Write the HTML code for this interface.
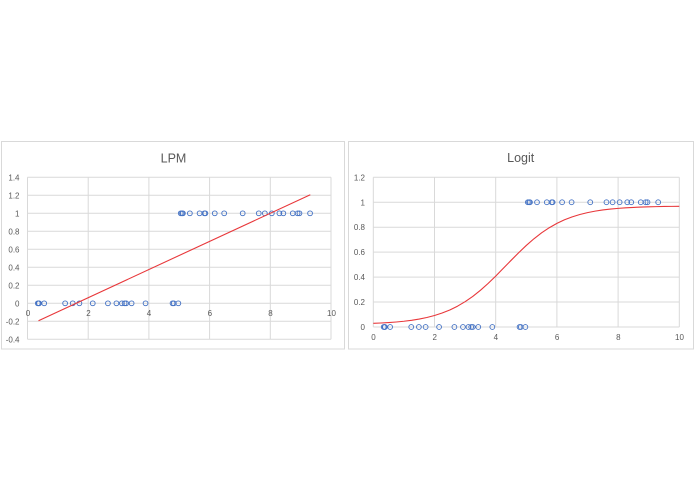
<!DOCTYPE html>
<html>
<head>
<meta charset="utf-8">
<style>
html,body{margin:0;padding:0;background:#fff;}
svg{display:block;}
text{font-family:"Liberation Sans",Arial,sans-serif;fill:#595959;}
</style>
</head>
<body>
<svg width="695" height="494" viewBox="0 0 695 494" xmlns="http://www.w3.org/2000/svg">
<rect x="0" y="0" width="695" height="494" fill="#fff"/>

<!-- ============ LEFT CHART: LPM ============ -->
<rect x="1.5" y="141.5" width="343" height="207.5" fill="#fff" stroke="#d9d9d9" stroke-width="1"/>
<text x="173.5" y="162.5" font-size="12.5" text-anchor="middle">LPM</text>

<g stroke="#d9d9d9" stroke-width="1" fill="none">
  <line x1="27.5" y1="177.3" x2="331" y2="177.3"/>
  <line x1="27.5" y1="195.3" x2="331" y2="195.3"/>
  <line x1="27.5" y1="213.3" x2="331" y2="213.3"/>
  <line x1="27.5" y1="231.3" x2="331" y2="231.3"/>
  <line x1="27.5" y1="249.3" x2="331" y2="249.3"/>
  <line x1="27.5" y1="267.3" x2="331" y2="267.3"/>
  <line x1="27.5" y1="285.3" x2="331" y2="285.3"/>
  <line x1="27.5" y1="303.3" x2="331" y2="303.3"/>
  <line x1="27.5" y1="321.3" x2="331" y2="321.3"/>
  <line x1="27.5" y1="339.3" x2="331" y2="339.3"/>
  <line x1="27.5" y1="177.3" x2="27.5" y2="339.3"/>
  <line x1="88.2" y1="177.3" x2="88.2" y2="339.3"/>
  <line x1="148.9" y1="177.3" x2="148.9" y2="339.3"/>
  <line x1="209.6" y1="177.3" x2="209.6" y2="339.3"/>
  <line x1="270.3" y1="177.3" x2="270.3" y2="339.3"/>
  <line x1="331" y1="177.3" x2="331" y2="339.3"/>
</g>

<g font-size="8" text-anchor="end">
  <text x="19.5" y="180.3">1.4</text>
  <text x="19.5" y="198.3">1.2</text>
  <text x="19.5" y="216.3">1</text>
  <text x="19.5" y="234.3">0.8</text>
  <text x="19.5" y="252.3">0.6</text>
  <text x="19.5" y="270.3">0.4</text>
  <text x="19.5" y="288.3">0.2</text>
  <text x="19.5" y="306.3">0</text>
  <text x="19.5" y="324.3">-0.2</text>
  <text x="19.5" y="342.3">-0.4</text>
</g>
<g font-size="8" text-anchor="middle">
  <text x="28" y="316">0</text>
  <text x="88.5" y="316">2</text>
  <text x="149" y="316">4</text>
  <text x="209.8" y="316">6</text>
  <text x="270.5" y="316">8</text>
  <text x="331.5" y="316">10</text>
</g>

<g fill="none" stroke="#4472c4" stroke-width="0.9">
  <circle cx="37.82" cy="303.3" r="2.4"/>
  <circle cx="38.73" cy="303.3" r="2.4"/>
  <circle cx="39.03" cy="303.3" r="2.4"/>
  <circle cx="44.19" cy="303.3" r="2.4"/>
  <circle cx="65.13" cy="303.3" r="2.4"/>
  <circle cx="72.72" cy="303.3" r="2.4"/>
  <circle cx="79.40" cy="303.3" r="2.4"/>
  <circle cx="92.75" cy="303.3" r="2.4"/>
  <circle cx="107.93" cy="303.3" r="2.4"/>
  <circle cx="116.43" cy="303.3" r="2.4"/>
  <circle cx="121.89" cy="303.3" r="2.4"/>
  <circle cx="124.62" cy="303.3" r="2.4"/>
  <circle cx="126.14" cy="303.3" r="2.4"/>
  <circle cx="131.60" cy="303.3" r="2.4"/>
  <circle cx="145.56" cy="303.3" r="2.4"/>
  <circle cx="172.57" cy="303.3" r="2.4"/>
  <circle cx="173.79" cy="303.3" r="2.4"/>
  <circle cx="178.34" cy="303.3" r="2.4"/>
  <circle cx="180.77" cy="213.3" r="2.4"/>
  <circle cx="181.98" cy="213.3" r="2.4"/>
  <circle cx="182.89" cy="213.3" r="2.4"/>
  <circle cx="189.87" cy="213.3" r="2.4"/>
  <circle cx="199.58" cy="213.3" r="2.4"/>
  <circle cx="204.44" cy="213.3" r="2.4"/>
  <circle cx="205.35" cy="213.3" r="2.4"/>
  <circle cx="214.76" cy="213.3" r="2.4"/>
  <circle cx="224.17" cy="213.3" r="2.4"/>
  <circle cx="242.68" cy="213.3" r="2.4"/>
  <circle cx="258.77" cy="213.3" r="2.4"/>
  <circle cx="264.84" cy="213.3" r="2.4"/>
  <circle cx="271.82" cy="213.3" r="2.4"/>
  <circle cx="279.41" cy="213.3" r="2.4"/>
  <circle cx="283.35" cy="213.3" r="2.4"/>
  <circle cx="292.76" cy="213.3" r="2.4"/>
  <circle cx="297.62" cy="213.3" r="2.4"/>
  <circle cx="299.44" cy="213.3" r="2.4"/>
  <circle cx="310.06" cy="213.3" r="2.4"/>
</g>

<line x1="38.5" y1="320.7" x2="310.3" y2="194.7" stroke="#e8373a" stroke-width="1.1"/>

<!-- ============ RIGHT CHART: Logit ============ -->
<rect x="348.5" y="141.5" width="345" height="207.5" fill="#fff" stroke="#d9d9d9" stroke-width="1"/>
<text x="520.7" y="162" font-size="12.5" text-anchor="middle">Logit</text>

<g stroke="#d9d9d9" stroke-width="1" fill="none">
  <line x1="373.3" y1="177.3" x2="679.3" y2="177.3"/>
  <line x1="373.3" y1="202.25" x2="679.3" y2="202.25"/>
  <line x1="373.3" y1="227.2" x2="679.3" y2="227.2"/>
  <line x1="373.3" y1="252.15" x2="679.3" y2="252.15"/>
  <line x1="373.3" y1="277.1" x2="679.3" y2="277.1"/>
  <line x1="373.3" y1="302.05" x2="679.3" y2="302.05"/>
  <line x1="373.3" y1="327" x2="679.3" y2="327"/>
  <line x1="373.3" y1="177.3" x2="373.3" y2="327"/>
  <line x1="434.5" y1="177.3" x2="434.5" y2="327"/>
  <line x1="495.7" y1="177.3" x2="495.7" y2="327"/>
  <line x1="556.9" y1="177.3" x2="556.9" y2="327"/>
  <line x1="618.1" y1="177.3" x2="618.1" y2="327"/>
  <line x1="679.3" y1="177.3" x2="679.3" y2="327"/>
</g>

<g font-size="8" text-anchor="end">
  <text x="365" y="180.3">1.2</text>
  <text x="365" y="205.25">1</text>
  <text x="365" y="230.2">0.8</text>
  <text x="365" y="255.15">0.6</text>
  <text x="365" y="280.1">0.4</text>
  <text x="365" y="305.05">0.2</text>
  <text x="365" y="330">0</text>
</g>
<g font-size="8" text-anchor="middle">
  <text x="373.5" y="340">0</text>
  <text x="434.7" y="340">2</text>
  <text x="495.9" y="340">4</text>
  <text x="557.1" y="340">6</text>
  <text x="618.3" y="340">8</text>
  <text x="679.5" y="340">10</text>
</g>

<g fill="none" stroke="#4472c4" stroke-width="0.9">
  <circle cx="383.70" cy="327" r="2.4"/>
  <circle cx="384.62" cy="327" r="2.4"/>
  <circle cx="384.93" cy="327" r="2.4"/>
  <circle cx="390.13" cy="327" r="2.4"/>
  <circle cx="411.24" cy="327" r="2.4"/>
  <circle cx="418.89" cy="327" r="2.4"/>
  <circle cx="425.63" cy="327" r="2.4"/>
  <circle cx="439.09" cy="327" r="2.4"/>
  <circle cx="454.39" cy="327" r="2.4"/>
  <circle cx="462.96" cy="327" r="2.4"/>
  <circle cx="468.47" cy="327" r="2.4"/>
  <circle cx="471.22" cy="327" r="2.4"/>
  <circle cx="472.75" cy="327" r="2.4"/>
  <circle cx="478.26" cy="327" r="2.4"/>
  <circle cx="492.33" cy="327" r="2.4"/>
  <circle cx="519.57" cy="327" r="2.4"/>
  <circle cx="520.79" cy="327" r="2.4"/>
  <circle cx="525.38" cy="327" r="2.4"/>
  <circle cx="527.83" cy="202.25" r="2.4"/>
  <circle cx="529.05" cy="202.25" r="2.4"/>
  <circle cx="529.97" cy="202.25" r="2.4"/>
  <circle cx="537.01" cy="202.25" r="2.4"/>
  <circle cx="546.80" cy="202.25" r="2.4"/>
  <circle cx="551.70" cy="202.25" r="2.4"/>
  <circle cx="552.62" cy="202.25" r="2.4"/>
  <circle cx="562.10" cy="202.25" r="2.4"/>
  <circle cx="571.59" cy="202.25" r="2.4"/>
  <circle cx="590.25" cy="202.25" r="2.4"/>
  <circle cx="606.47" cy="202.25" r="2.4"/>
  <circle cx="612.59" cy="202.25" r="2.4"/>
  <circle cx="619.63" cy="202.25" r="2.4"/>
  <circle cx="627.28" cy="202.25" r="2.4"/>
  <circle cx="631.26" cy="202.25" r="2.4"/>
  <circle cx="640.74" cy="202.25" r="2.4"/>
  <circle cx="645.64" cy="202.25" r="2.4"/>
  <circle cx="647.48" cy="202.25" r="2.4"/>
  <circle cx="658.19" cy="202.25" r="2.4"/>
</g>

<polyline fill="none" stroke="#e8373a" stroke-width="1.1" stroke-linejoin="round"
  points="373.3,323.36 380.95,323.01 388.6,322.57 396.25,321.99 403.9,321.24 411.55,320.28 419.2,319.05 426.85,317.49 434.5,315.51 442.15,313.03 449.8,309.96 457.45,306.21 465.1,301.71 472.75,296.40 480.4,290.30 488.05,283.48 495.7,276.09 503.35,268.30 511,260.43 518.65,252.73 526.3,245.45 533.95,238.76 541.6,232.84 549.25,227.72 556.9,223.39 564.55,219.79 572.2,216.86 579.85,214.51 587.5,212.63 595.15,211.14 602.8,209.98 610.45,209.07 618.1,208.37 625.75,207.82 633.4,207.40 641.05,207.07 648.7,206.82 656.35,206.63 664,206.48 671.65,206.37 679.3,206.28"/>
</svg>
</body>
</html>
